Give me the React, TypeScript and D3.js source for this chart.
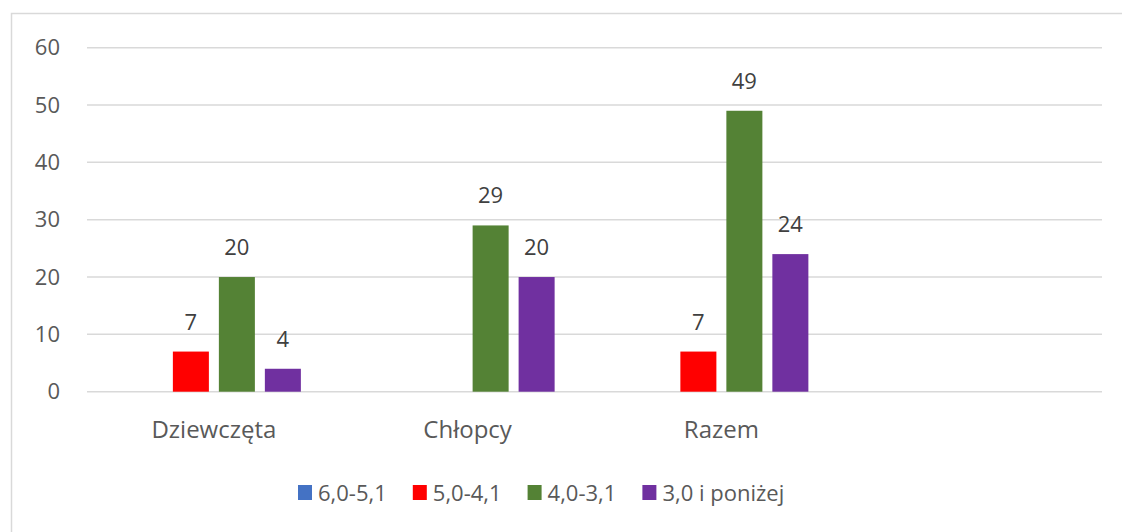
import React, { useEffect, useRef } from 'react';
import { select, scaleLinear, scaleBand } from 'd3';

const categories = ['Dziewczęta', 'Chłopcy', 'Razem', ''];
const seriesNames = ['6,0-5,1', '5,0-4,1', '4,0-3,1', '3,0 i poniżej'];
const seriesColors = ['#4472C4', '#FF0000', '#548235', '#7030A0'];
const s1 = [null, null, null, null];
const s2 = [7, null, 7, null];
const s3 = [20, 29, 49, null];
const s4 = [4, 20, 24, null];
const yTicks = [0, 10, 20, 30, 40, 50, 60];

const W = 1122;
const H = 532;

export default function App() {
  const svgRef = useRef<SVGSVGElement>(null);

  useEffect(() => {
    if (!svgRef.current) return;
    const svg = select(svgRef.current);
    svg.selectAll('*').remove();

    const font = "'Open Sans', sans-serif";
    const allSeries = [s1, s2, s3, s4];

    svg.append('rect').attr('width', W).attr('height', H).attr('fill', '#fff');
    // chart frame
    svg.append('rect')
      .attr('x', 11.5).attr('y', 13.5).attr('width', W + 20).attr('height', H + 20)
      .attr('fill', 'none').attr('stroke', '#d9d9d9').attr('stroke-width', 1.5);

    const left = 87, right = 1102;
    const y = scaleLinear().domain([0, 60]).range([391.7, 47.7]);
    const x0 = scaleBand<string>().domain(categories.map((c, i) => i + '')).range([left, right]);
    const x1 = scaleBand<string>().domain(seriesNames)
      .range([0, x0.bandwidth()]).paddingInner(0.217).paddingOuter(0.867);

    // grid + y ticks
    const grid = svg.append('g');
    yTicks.forEach(t => {
      grid.append('line')
        .attr('x1', left).attr('x2', right).attr('y1', y(t)).attr('y2', y(t))
        .attr('stroke', '#d9d9d9').attr('stroke-width', 1.5);
      grid.append('text')
        .attr('x', 60).attr('y', y(t)).attr('dy', '0.35em')
        .attr('text-anchor', 'end').attr('font-family', font).attr('font-size', '22px')
        .attr('fill', '#595959').text(t);
    });

    // bars
    allSeries.forEach((vals, si) => {
      const g = svg.append('g');
      vals.forEach((v, ci) => {
        if (v == null) return;
        const bx = (x0(ci + '') || 0) + (x1(seriesNames[si]) || 0);
        g.append('rect')
          .attr('x', bx).attr('y', y(v)).attr('width', x1.bandwidth())
          .attr('height', y(0) - y(v)).attr('fill', seriesColors[si]);
        g.append('text')
          .attr('x', bx + x1.bandwidth() / 2).attr('y', y(v) - 22)
          .attr('text-anchor', 'middle').attr('font-family', font).attr('font-size', '22px')
          .attr('fill', '#404040').text(v);
      });
    });

    // category labels
    categories.forEach((c, i) => {
      svg.append('text')
        .attr('x', (x0(i + '') || 0) + x0.bandwidth() / 2).attr('y', 438)
        .attr('text-anchor', 'middle').attr('font-family', font).attr('font-size', '24px')
        .attr('fill', '#595959').text(c);
    });

    // legend
    let lx = 298;
    seriesNames.forEach((name, i) => {
      svg.append('rect')
        .attr('x', lx).attr('y', 485).attr('width', 14).attr('height', 15)
        .attr('fill', seriesColors[i]);
      const t = svg.append('text')
        .attr('x', lx + 20).attr('y', 501)
        .attr('font-family', font).attr('font-size', '22px')
        .attr('fill', '#595959').text(name);
      const tw = (t.node() as SVGTextElement).getComputedTextLength();
      lx += 20 + tw + 26;
    });
  }, []);

  return (
    <svg ref={svgRef} width={W} height={H}
      style={{ position: 'absolute', left: 0, top: 0, display: 'block' }} />
  );
}
